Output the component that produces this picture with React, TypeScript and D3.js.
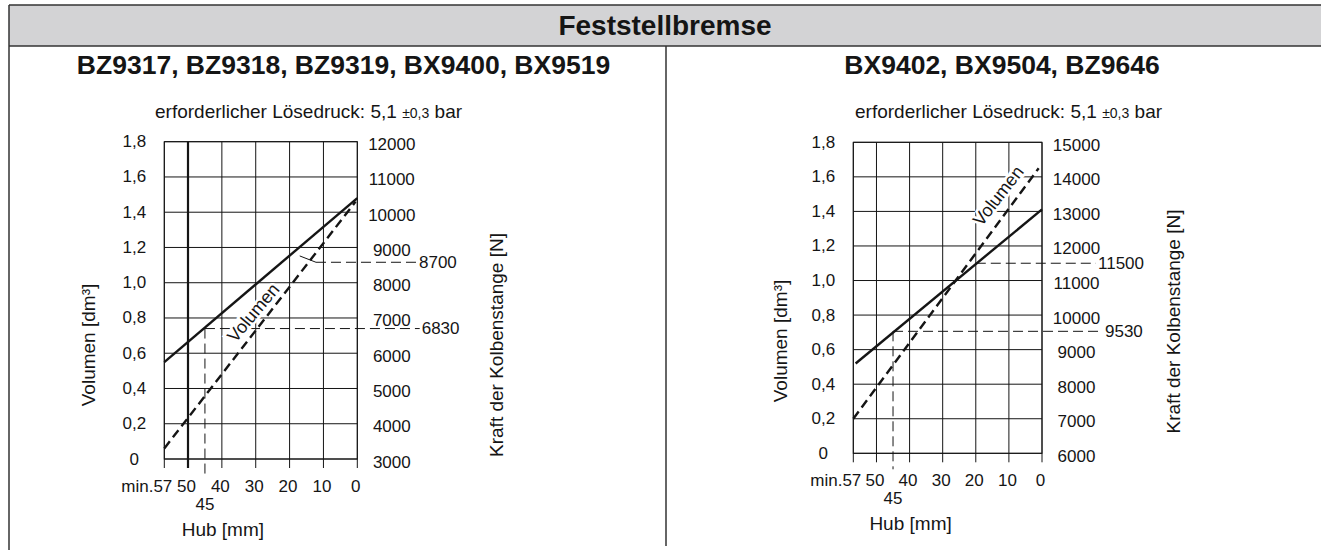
import * as d3 from 'd3';

const hubTicks = [57, 50, 40, 30, 20, 10, 0];
const hubTickLabels = ['min.57', '50', '40', '30', '20', '10', '0'];
const volumeTicks = [0, 0.2, 0.4, 0.6, 0.8, 1.0, 1.2, 1.4, 1.6, 1.8];
const volumeTickLabels = ['0', '0,2', '0,4', '0,6', '0,8', '1,0', '1,2', '1,4', '1,6', '1,8'];
const forceTicksLeft = [3000, 4000, 5000, 6000, 7000, 8000, 9000, 10000, 11000, 12000];
const forceTicksRight = [6000, 7000, 8000, 9000, 10000, 11000, 12000, 13000, 14000, 15000];

// left chart: BZ9317 ... (Hub mm -> value)
const leftForceHub = [57, 0];
const leftForceN = [5750, 10400];
const leftVolumeHub = [57, 0.5];
const leftVolumeDm3 = [0.06, 1.46];
const leftMarkLabels = ['6830', '8700'];
const leftMarkForce = [6700, 8580];
const leftMarkFromHub = [45, 12.2];

// right chart: BX9402 ...
const rightForceHub = [56.3, 0];
const rightForceN = [8600, 13060];
const rightVolumeHub = [57, 1];
const rightVolumeDm3 = [0.2, 1.65];
const rightMarkLabels = ['9530', '11500'];
const rightMarkForce = [9530, 11500];
const rightMarkFromHub = [45, 20];

const FONT = "'Liberation Sans', Arial, Helvetica, sans-serif";
const INK = '#151515';

interface ChartProps {
  x0: number; x1: number; yTop: number; yBot: number;
  forceTicks: number[];
  forceHub: number[]; forceN: number[];
  volHub: number[]; volDm3: number[];
  markLabels: string[]; markForce: number[]; markFromHub: number[];
  markLabelX: number[];
  boldHub: number | null;
  volLabel: [number, number]; volAngle: number;
  noteX: number;
  volTitleX: number; volTitleY: number;
  forceTitleX: number; forceTitleY: number;
  leader?: [number, number];
}

function Chart(p: ChartProps) {
  const x = d3.scaleLinear().domain([57, 0]).range([p.x0, p.x1]);
  const yV = d3.scaleLinear().domain([0, 1.8]).range([p.yBot, p.yTop]);
  const yF = d3.scaleLinear()
    .domain([p.forceTicks[0], p.forceTicks[p.forceTicks.length - 1]])
    .range([p.yBot, p.yTop]);

  const forcePts = p.forceHub.map((h, i) => [x(h), yF(p.forceN[i])] as [number, number]);
  const volPts = p.volHub.map((h, i) => [x(h), yV(p.volDm3[i])] as [number, number]);
  const line = d3.line();

  return (
    <g fontFamily={FONT} fill={INK}>
      <text x={p.noteX} y={p.yTop - 24} fontSize={19}>
        erforderlicher Lösedruck: 5,1 <tspan fontSize={14}>±0,3</tspan> bar
      </text>

      {/* grid */}
      {volumeTicks.map((v) => (
        <line key={'h' + v} x1={p.x0} x2={p.x1} y1={yV(v)} y2={yV(v)} stroke={INK} strokeWidth={1} />
      ))}
      {hubTicks.map((h) => (
        <line key={'v' + h} x1={x(h)} x2={x(h)} y1={p.yTop} y2={p.yBot + 9}
          stroke={INK} strokeWidth={h === p.boldHub ? 2.2 : 1} />
      ))}

      {/* y labels */}
      {volumeTicks.map((v, i) => (
        <text key={'yl' + v} x={p.x0 - 30} y={yV(v)} fontSize={17} textAnchor="middle" dominantBaseline="central">
          {volumeTickLabels[i]}
        </text>
      ))}
      {p.forceTicks.map((f) => (
        <text key={'yr' + f} x={p.x1 + 34.5} y={yF(f) + 3} fontSize={17} textAnchor="middle" dominantBaseline="central">
          {f}
        </text>
      ))}

      {/* x labels */}
      {hubTicks.map((h, i) => (
        <text key={'xl' + h} x={i === 0 ? x(h) + 8 : x(h) - 1.5} y={p.yBot + 32.7} fontSize={17}
          textAnchor={i === 0 ? 'end' : 'middle'}>
          {hubTickLabels[i]}
        </text>
      ))}
      <text x={x(45)} y={p.yBot + 51} fontSize={17} textAnchor="middle">45</text>
      <text x={x(39.7)} y={p.yBot + 77} fontSize={19} textAnchor="middle">Hub [mm]</text>

      {/* axis titles */}
      <text transform={`translate(${p.volTitleX},${p.volTitleY}) rotate(-90)`} fontSize={19}
        textAnchor="middle" dominantBaseline="central">Volumen [dm³]</text>
      <text transform={`translate(${p.forceTitleX},${p.forceTitleY}) rotate(-90)`} fontSize={19}
        textAnchor="middle" dominantBaseline="central">Kraft der Kolbenstange [N]</text>

      {/* reference marks */}
      {p.markLabels.map((lab, i) => (
        <g key={'m' + lab}>
          <line x1={x(p.markFromHub[i])} x2={p.markLabelX[i] - 2}
            y1={yF(p.markForce[i])} y2={yF(p.markForce[i])}
            stroke={INK} strokeWidth={1} strokeDasharray="10,5" />
          <text x={p.markLabelX[i]} y={yF(p.markForce[i])} fontSize={17} dominantBaseline="central">{lab}</text>
        </g>
      ))}
      <line x1={x(45)} x2={x(45)} y1={yF(p.markForce[0])} y2={p.yBot + 16}
        stroke={INK} strokeWidth={1} strokeDasharray="10,5" />
      {p.leader && (
        <line x1={x(p.leader[0])} y1={yF(p.leader[1])} x2={x(p.markFromHub[1])} y2={yF(p.markForce[1])}
          stroke={INK} strokeWidth={1} />
      )}

      {/* series */}
      <path d={line(forcePts) ?? ''} fill="none" stroke={INK} strokeWidth={2.4} />
      <path d={line(volPts) ?? ''} fill="none" stroke={INK} strokeWidth={2.4} strokeDasharray="9,5" />

      <text transform={`translate(${x(p.volLabel[0])},${yV(p.volLabel[1])}) rotate(${p.volAngle})`}
        fontSize={18} textAnchor="middle" dominantBaseline="central"
        stroke="#fff" strokeWidth={5} paintOrder="stroke">Volumen</text>

      {/* frame */}
      <rect x={p.x0} y={p.yTop} width={p.x1 - p.x0} height={p.yBot - p.yTop} fill="none" stroke={INK} strokeWidth={1} />
    </g>
  );
}

export default function App() {
  const W = 1321;
  const H = 550;
  return (
    <svg width={W} height={H} style={{ position: 'absolute', left: 0, top: 0, background: '#fff' }}>
      <rect x={9} y={5} width={W - 9} height={41} fill="#d3d3d5" />
      <line x1={9} x2={W} y1={5} y2={5} stroke="#333" strokeWidth={1.5} />
      <line x1={9} x2={W} y1={46} y2={46} stroke="#333" strokeWidth={1.5} />
      <line x1={9} x2={9} y1={5} y2={H} stroke="#333" strokeWidth={1.5} />
      <line x1={666} x2={666} y1={46} y2={546} stroke="#333" strokeWidth={1.5} />

      <text x={665} y={35} fontFamily={FONT} fontSize={28} fontWeight="bold" textAnchor="middle" fill={INK}>
        Feststellbremse
      </text>
      <text x={343.5} y={74} fontFamily={FONT} fontSize={26.5} fontWeight="bold" textAnchor="middle" fill={INK}>
        BZ9317, BZ9318, BZ9319, BX9400, BX9519
      </text>
      <text x={1002} y={74} fontFamily={FONT} fontSize={26.5} fontWeight="bold" textAnchor="middle" fill={INK}>
        BX9402, BX9504, BZ9646
      </text>

      <Chart
        x0={164.3} x1={357.3} yTop={141.7} yBot={459}
        forceTicks={forceTicksLeft}
        forceHub={leftForceHub} forceN={leftForceN}
        volHub={leftVolumeHub} volDm3={leftVolumeDm3}
        markLabels={leftMarkLabels} markForce={leftMarkForce} markFromHub={leftMarkFromHub}
        markLabelX={[421.7, 419]}
        boldHub={50}
        volLabel={[30.7, 0.83]} volAngle={-50}
        noteX={155}
        volTitleX={88} volTitleY={345}
        forceTitleX={496.7} forceTitleY={345}
        leader={[17, 8760]}
      />
      <Chart
        x0={853.3} x1={1042} yTop={142.3} yBot={453.3}
        forceTicks={forceTicksRight}
        forceHub={rightForceHub} forceN={rightForceN}
        volHub={rightVolumeHub} volDm3={rightVolumeDm3}
        markLabels={rightMarkLabels} markForce={rightMarkForce} markFromHub={rightMarkFromHub}
        markLabelX={[1105, 1098]}
        boldHub={null}
        volLabel={[13.2, 1.49]} volAngle={-52}
        noteX={855}
        volTitleX={780} volTitleY={341}
        forceTitleX={1173} forceTitleY={321.5}
      />
    </svg>
  );
}
